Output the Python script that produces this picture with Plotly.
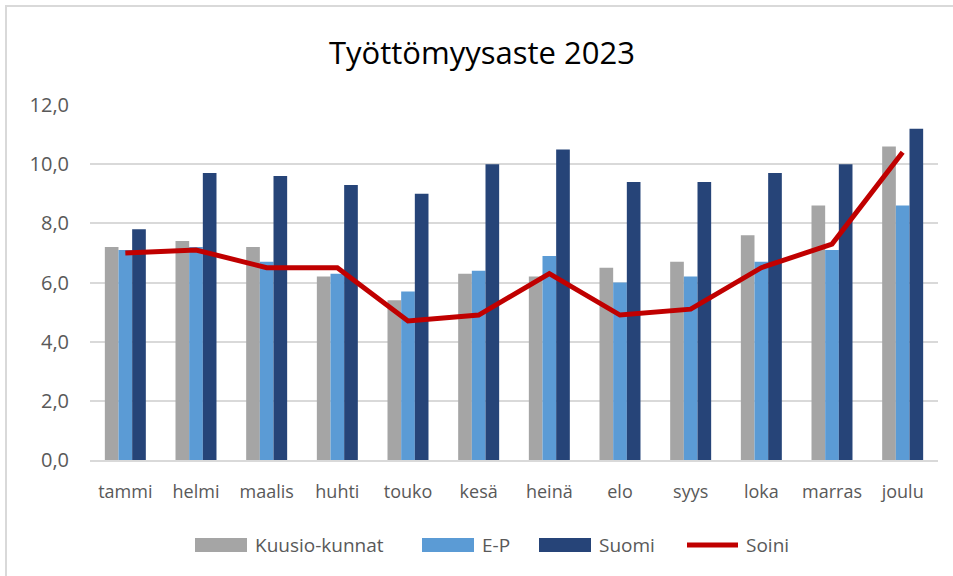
import plotly.graph_objects as go

months = ["tammi", "helmi", "maalis", "huhti", "touko", "kesä", "heinä", "elo", "syys", "loka", "marras", "joulu"]
kuusio = [7.2, 7.4, 7.2, 6.2, 5.4, 6.3, 6.2, 6.5, 6.7, 7.6, 8.6, 10.6]
ep = [7.1, 7.2, 6.7, 6.3, 5.7, 6.4, 6.9, 6.0, 6.2, 6.7, 7.1, 8.6]
suomi = [7.8, 9.7, 9.6, 9.3, 9.0, 10.0, 10.5, 9.4, 9.4, 9.7, 10.0, 11.2]
soini = [7.0, 7.1, 6.5, 6.5, 4.7, 4.9, 6.3, 4.9, 5.1, 6.5, 7.3, 10.4]
yticks = [0, 2, 4, 6, 8, 10, 12]

series_names = ["Kuusio-kunnat", "E-P", "Suomi", "Soini"]
colors = ["#a5a5a5", "#5b9bd5", "#264478", "#c00000"]

FONT = "Open Sans"
W, H = 953, 576
ML, MR, MT, MB = 90, 15, 105, 116
PW, PH = W - ML - MR, H - MT - MB


def px_x(p):
    return (p - ML) / PW


def px_y(p):
    return (H - MB - p) / PH


fig = go.Figure()
for vals, nm, col in zip([kuusio, ep, suomi], series_names[:3], colors[:3]):
    fig.add_trace(go.Bar(x=months, y=vals, name=nm, marker=dict(color=col, line=dict(width=0)), showlegend=False))
fig.add_trace(go.Scatter(x=months, y=soini, name=series_names[3], mode="lines",
                         line=dict(color=colors[3], width=5), showlegend=False))

fig.update_layout(
    width=W, height=H,
    paper_bgcolor="white", plot_bgcolor="white",
    separators=", ",
    barmode="group", bargap=0.42, bargroupgap=0,
    margin=dict(l=ML, r=MR, t=MT, b=MB),
    font=dict(family=FONT, color="#595959", size=17),
    title=dict(text="Työttömyysaste 2023", x=482 / W, xref="container", xanchor="center", y=1 - 53 / H,
               yanchor="middle", font=dict(family=FONT, size=31, color="#000000")),
    showlegend=False,
    xaxis=dict(showgrid=False, showline=True, linecolor="#d9d9d9", linewidth=1.5, ticks="", automargin=False,
               tickfont=dict(family=FONT, size=18, color="#595959"), ticklabelstandoff=15),
    yaxis=dict(range=[0, 12], tickvals=yticks, tickformat=".1f", showgrid=True, gridcolor="#d9d9d9", gridwidth=1.5,
               zeroline=False, showline=False, ticks="", automargin=False,
               tickfont=dict(family=FONT, size=20, color="#595959"), ticklabelstandoff=20),
)

# chart frame
fig.add_shape(type="rect", xref="paper", yref="paper", x0=px_x(6), x1=px_x(W + 10), y0=px_y(H + 10), y1=px_y(6),
              line=dict(color="#d9d9d9", width=2), fillcolor="rgba(0,0,0,0)", layer="below")

# custom legend (wide swatches like the original)
leg_y = 545
sw = [(195, 247), (422, 474), (539, 591), (684, 741)]
tx = [253, 480, 597, 744]
for i, (nm, col) in enumerate(zip(series_names, colors)):
    x0, x1 = sw[i]
    if i < 3:
        fig.add_shape(type="rect", xref="paper", yref="paper", x0=px_x(x0), x1=px_x(x1),
                      y0=px_y(leg_y + 7), y1=px_y(leg_y - 7), line=dict(width=0), fillcolor=col)
    else:
        fig.add_shape(type="line", xref="paper", yref="paper", x0=px_x(x0 + 3), x1=px_x(x1 - 3),
                      y0=px_y(leg_y), y1=px_y(leg_y), line=dict(color=col, width=5))
    fig.add_annotation(text=nm, xref="paper", yref="paper", x=px_x(tx[i]), y=px_y(leg_y), xanchor="left",
                       yanchor="middle", showarrow=False, font=dict(family=FONT, size=19, color="#595959"))

fig.write_html("out.html", config={"displayModeBar": False}, post_script="document.body.style.margin='0';")
